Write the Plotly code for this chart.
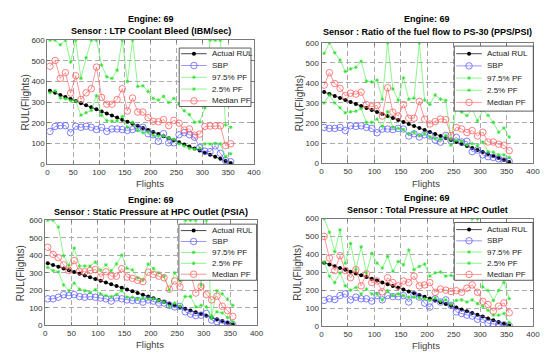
import plotly.graph_objects as go

# ---------------- data ----------------
flights = [5, 15, 25, 35, 45, 55, 65, 75, 85, 95, 105, 115, 125, 135, 145, 155, 165, 175,
           185, 195, 205, 215, 225, 235, 245, 255, 265, 275, 285, 295, 305, 315, 325, 335, 345, 355]
actual_rul = [355, 345, 335, 325, 315, 305, 295, 285, 275, 265, 255, 245, 235, 225, 215, 205, 195, 185,
              175, 165, 155, 145, 135, 125, 115, 105, 95, 85, 75, 65, 55, 45, 35, 25, 15, 5]
x_ticks = [0, 50, 100, 150, 200, 250, 300, 350, 400]
y_ticks = [0, 100, 200, 300, 400, 500, 600]

engine_title = "Engine: 69"
sensor_titles = ["Sensor : LTP Coolant Bleed (IBM/sec)",
                 "Sensor : Ratio of the fuel flow to PS-30 (PPS/PSI)",
                 "Sensor : Static Pressure at HPC Outlet (PSIA)",
                 "Sensor : Total Pressure at HPC Outlet"]
series_names = ["Actual RUL", "SBP", "97.5% PF", "2.5% PF", "Median PF"]
x_title = "Flights"
y_title = "RUL(Flights)"

# Sensor 1: LTP coolant bleed
sbp_coolant = [158, 182, 186, 186, 152, 183, 178, 183, 178, 167, 178, 158, 170, 170, 167, 163, 167, 174,
               178, 147, 142, 110, 147, 103, 103, 142, 152, 142, 130, 80, 62, 60, 88, 52, 17, 11]
pf975_coolant = [600, 600, 578, 600, 494, 600, 415, 515, 600, 600, 480, 423, 415, 455, 600, 400, 600, 376,
                 379, 352, 318, 310, 328, 298, 318, 290, 258, 240, 202, 205, 272, 600, 600, 600, 190, 178]
pf025_coolant = [346, 355, 320, 316, 307, 305, 237, 249, 260, 331, 236, 210, 208, 208, 230, 178, 202, 163,
                 152, 155, 139, 136, 136, 126, 120, 98, 88, 76, 72, 76, 98, 97, 99, 98, 36, 50]
median_coolant = [474, 502, 415, 443, 344, 428, 313, 345, 365, 470, 323, 290, 290, 313, 365, 257, 320, 252,
                  252, 225, 207, 205, 215, 186, 212, 198, 165, 170, 140, 145, 182, 184, 185, 185, 90, 98]

# Sensor 2: ratio of fuel flow to PS-30
sbp_fuel = [178, 173, 173, 178, 162, 186, 183, 186, 178, 173, 151, 170, 170, 167, 173, 170, 135, 146,
            130, 141, 135, 115, 104, 138, 110, 128, 105, 109, 57, 65, 41, 32, 28, 21, 11, 8]
pf975_fuel = [548, 600, 551, 514, 457, 470, 478, 508, 409, 405, 414, 319, 600, 370, 314, 425, 319, 324,
              600, 314, 292, 340, 319, 313, 120, 280, 255, 237, 270, 210, 265, 238, 203, 154, 175, 130]
pf025_fuel = [300, 340, 300, 276, 251, 256, 259, 272, 203, 203, 219, 183, 256, 178, 173, 167, 146, 154,
              138, 146, 130, 122, 118, 138, 89, 113, 109, 89, 97, 86, 105, 57, 54, 41, 41, 28]
median_fuel = [389, 451, 397, 373, 336, 349, 344, 354, 292, 281, 287, 235, 376, 254, 235, 292, 224, 224,
               308, 219, 195, 207, 220, 217, 138, 178, 170, 152, 162, 135, 154, 105, 105, 94, 89, 62]

# Sensor 3: static pressure at HPC outlet
sbp_static = [152, 152, 161, 176, 170, 176, 165, 161, 165, 161, 157, 152, 139, 157, 152, 146, 143, 143,
              133, 146, 139, 128, 128, 115, 106, 109, 78, 65, 56, 59, 69, 31, 22, 13, 9, 4]
pf975_static = [600, 600, 561, 398, 343, 441, 339, 339, 339, 361, 315, 346, 312, 351, 401, 326, 317, 272,
                259, 350, 324, 300, 281, 202, 300, 254, 600, 600, 600, 230, 600, 55, 198, 180, 150, 115]
pf025_static = [331, 313, 306, 231, 198, 241, 207, 198, 189, 204, 180, 170, 165, 176, 198, 161, 161, 152,
                157, 152, 152, 143, 133, 109, 128, 109, 165, 165, 106, 115, 106, 41, 78, 72, 46, 22]
median_static = [446, 406, 387, 346, 313, 370, 309, 306, 313, 319, 276, 306, 281, 281, 324, 276, 269, 257,
                 250, 304, 291, 281, 272, 207, 254, 220, 300, 300, 185, 222, 176, 146, 167, 110, 85, 52]

# Sensor 4: total pressure at HPC outlet
sbp_total = [145, 154, 150, 172, 181, 148, 163, 154, 154, 141, 172, 148, 172, 166, 166, 172, 136, 177,
             163, 130, 108, 154, 136, 148, 117, 81, 72, 63, 58, 40, 40, 18, 14, 9, 9, 4]
pf975_total = [600, 524, 416, 537, 352, 461, 316, 443, 298, 407, 352, 325, 389, 307, 361, 343, 425, 316,
               334, 347, 280, 298, 303, 280, 284, 266, 270, 330, 600, 600, 220, 200, 145, 200, 245, 155]
pf025_total = [358, 280, 244, 298, 226, 202, 217, 181, 208, 181, 181, 148, 199, 172, 181, 172, 163, 163,
               159, 154, 145, 159, 141, 148, 123, 145, 148, 136, 148, 127, 112, 90, 63, 63, 72, 22]
median_total = [501, 380, 311, 394, 311, 271, 316, 226, 293, 244, 253, 193, 271, 244, 226, 253, 244, 280,
                226, 231, 244, 190, 208, 202, 195, 199, 190, 213, 231, 190, 140, 122, 85, 113, 131, 76]

panels = [
    (sbp_coolant, pf975_coolant, pf025_coolant, median_coolant),
    (sbp_fuel, pf975_fuel, pf025_fuel, median_fuel),
    (sbp_static, pf975_static, pf025_static, median_static),
    (sbp_total, pf975_total, pf025_total, median_total),
]

# ---------------- layout geometry (pixels) ----------------
W, H = 550, 353
plot_boxes = [  # left, top, right, bottom
    (38, 29, 248, 156),
    (316.7, 31.7, 531.7, 155),
    (35.7, 213.7, 250.7, 321.7),
    (316.7, 212, 531.7, 322.7),
]
legend_boxes = [  # left, top, right, bottom, first row offset, row step
    (172, 37, 245, 97, 5.8, 12.1),
    (451.7, 35, 532, 101.7, 7.8, 12.5),
    (171.7, 217.7, 250.7, 275.3, 6.6, 11.2),
    (451.7, 216, 531.7, 275.3, 7.3, 11.5),
]
title_rows = [(7.3, 19.5), (7.3, 20.5), (192.6, 205.0), (191.0, 203.0)]
xtitle_y = [175.5, 175.5, 341.5, 342.5]
ytitle_x = [15.5, 295.0, 11.5, 292.0]

FONT = "Liberation Sans, Arial, sans-serif"
GREEN_LINE = "#5cf05c"
GREEN_MARK = "#2fe02f"
styles = [
    dict(mode="lines+markers", line=dict(color="#1a1a1a", width=0.8),
         marker=dict(symbol="circle", size=4, color="#000000")),
    dict(mode="lines+markers", line=dict(color="#6a6aff", width=0.7),
         marker=dict(symbol="circle-open", size=6.5, color="#6060ff", line=dict(width=0.8))),
    dict(mode="lines+markers", line=dict(color=GREEN_LINE, width=0.7),
         marker=dict(symbol="asterisk-open", size=3, color=GREEN_MARK, line=dict(width=0.8))),
    dict(mode="lines+markers", line=dict(color=GREEN_LINE, width=0.7),
         marker=dict(symbol="asterisk-open", size=3, color=GREEN_MARK, line=dict(width=0.8))),
    dict(mode="lines+markers", line=dict(color="#ff6a6a", width=0.7),
         marker=dict(symbol="circle-open", size=6.5, color="#ff6060", line=dict(width=0.8))),
]

def px_x(v):
    return v / W

def px_y(v):
    return 1 - v / H

fig = go.Figure()
annotations = []
layout_axes = {}

for i, (series, box) in enumerate(zip(panels, plot_boxes)):
    n = i + 1
    xa = "x" if n == 1 else f"x{n}"
    ya = "y" if n == 1 else f"y{n}"
    all_series = [actual_rul] + list(series)
    for name, vals, st in zip(series_names, all_series, styles):
        fig.add_trace(go.Scatter(x=flights, y=vals, name=name, xaxis=xa, yaxis=ya,
                                 showlegend=False, hoverinfo="skip", **st))
    l, t, r, b = box
    axis_common = dict(showgrid=True, gridcolor="#acacac", gridwidth=0.8, griddash="5px,3px",
                       showline=True, linecolor="#7a7a7a", linewidth=1, mirror="ticks",
                       ticks="inside", ticklen=3, tickcolor="#7a7a7a", tickwidth=0.8,
                       zeroline=False, tickfont=dict(family=FONT, size=8, color="#333333"),
                       fixedrange=True)
    layout_axes[f"xaxis{'' if n == 1 else n}"] = dict(
        domain=[px_x(l), px_x(r)], range=[0, 400], tickvals=x_ticks,
        anchor=ya, **axis_common)
    layout_axes[f"yaxis{'' if n == 1 else n}"] = dict(
        domain=[px_y(b), px_y(t)], range=[0, 600], tickvals=y_ticks,
        anchor=xa, **axis_common)
    cx = (l + r) / 2
    r1, r2 = title_rows[i]
    annotations.append(dict(text=engine_title, x=px_x(cx), y=px_y(r1), xref="paper", yref="paper",
                            showarrow=False, xanchor="center", yanchor="middle",
                            font=dict(family=FONT, size=9, color="#000000", weight="bold")))
    annotations.append(dict(text=sensor_titles[i], x=px_x(cx), y=px_y(r2), xref="paper", yref="paper",
                            showarrow=False, xanchor="center", yanchor="middle",
                            font=dict(family=FONT, size=9, color="#000000", weight="bold")))
    annotations.append(dict(text=x_title, x=px_x(cx - 1), y=px_y(xtitle_y[i]), xref="paper", yref="paper",
                            showarrow=False, xanchor="center", yanchor="middle",
                            font=dict(family=FONT, size=9.5, color="#404040")))
    annotations.append(dict(text=y_title, x=px_x(ytitle_x[i]), y=px_y((t + b) / 2), xref="paper",
                            yref="paper", showarrow=False, textangle=-90, xanchor="center",
                            yanchor="middle", font=dict(family=FONT, size=10, color="#404040")))

# ---------------- legends (on a full-figure pixel overlay axis) ----------------
for i, (l, t, r, b, first, step) in enumerate(legend_boxes):
    fig.add_trace(go.Scatter(x=[l, r, r, l, l], y=[t, t, b, b, t], mode="lines", fill="toself",
                             fillcolor="#ffffff", line=dict(color="#333333", width=0.8),
                             xaxis="x5", yaxis="y5", showlegend=False, hoverinfo="skip"))
    for k, (name, st) in enumerate(zip(series_names, styles)):
        yy = t + first + k * step
        fig.add_trace(go.Scatter(x=[l + 2, l + 28], y=[yy, yy], mode="lines", line=st["line"],
                                 xaxis="x5", yaxis="y5", showlegend=False, hoverinfo="skip"))
        fig.add_trace(go.Scatter(x=[l + 15], y=[yy], mode="markers", marker=st["marker"],
                                 xaxis="x5", yaxis="y5", showlegend=False, hoverinfo="skip"))
        annotations.append(dict(text=name, x=l + 31.5, y=yy, xref="x5", yref="y5", showarrow=False,
                                xanchor="left", yanchor="middle",
                                font=dict(family=FONT, size=8, color="#222222")))

layout_axes["xaxis5"] = dict(domain=[0, 1], range=[0, W], visible=False, fixedrange=True, anchor="y5")
layout_axes["yaxis5"] = dict(domain=[0, 1], range=[H, 0], visible=False, fixedrange=True, anchor="x5")

fig.update_layout(width=W, height=H, margin=dict(l=0, r=0, t=0, b=0),
                  paper_bgcolor="#ffffff", plot_bgcolor="rgba(0,0,0,0)", showlegend=False,
                  annotations=annotations, **layout_axes)
fig.write_html("out.html")
